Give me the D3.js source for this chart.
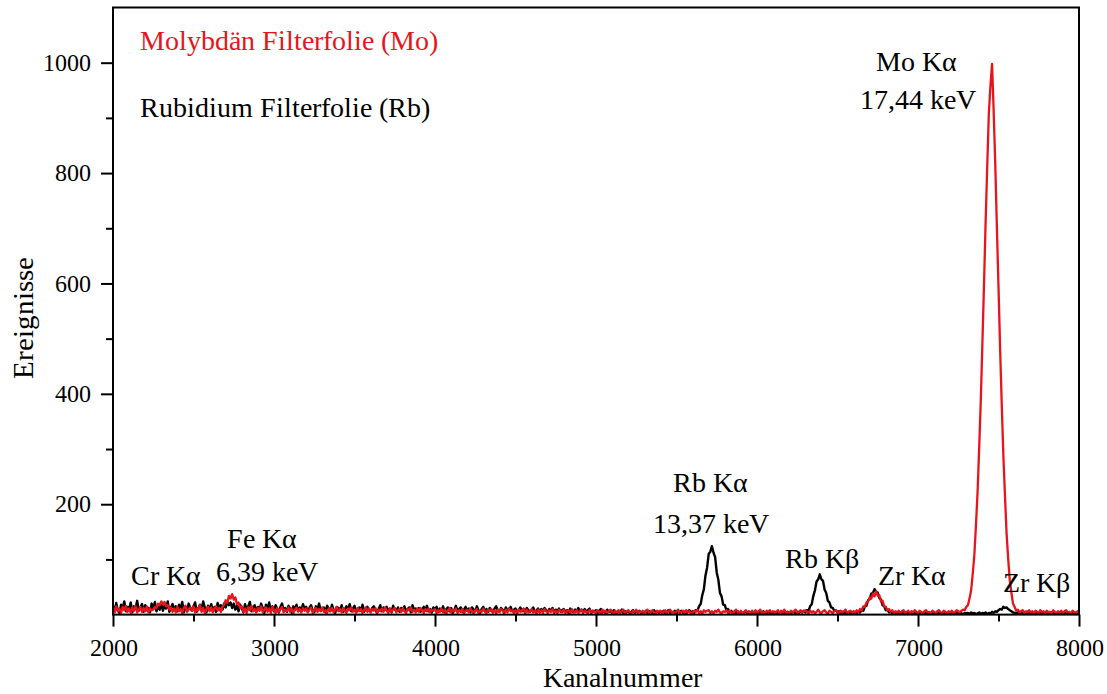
<!DOCTYPE html>
<html>
<head>
<meta charset="utf-8">
<script src="https://cdn.jsdelivr.net/npm/d3@7"></script>
<style>
  @font-face {
    font-family: "ChartSerif";
    src: local("Liberation Serif"), local("LiberationSerif"), local("LiberationSerif-Regular"),
         local("Times New Roman"), local("TimesNewRomanPSMT"),
         local("DejaVu Serif"), local("DejaVuSerif");
  }
  html, body { margin: 0; padding: 0; background: #fff; }
  svg { display: block; }
  svg text { font-family: "ChartSerif", "Liberation Serif", serif; }
</style>
</head>
<body>
<svg id="chart" width="1107" height="694"></svg>
<script>
// Spectra: counts per channel, sampled every 10 channels from channel 2000 to 8000
const channelStart = 2000;
const channelStep = 10;

// Molybdenum filter foil (red)
const molybdenumCounts = [
  12,4,15,6,10,3,14,8,16,5,
  11,3,13,7,15,4,9,14,5,12,
  6,15,4,11,8,9,14,12,20,17,
  24,19,23,15,17,9,13,5,11,4,
  14,6,10,3,12,16,5,9,13,7,
  15,4,11,8,17,5,12,3,10,14,
  6,13,4,11,15,7,12,5,14,18,
  26,21,34,29,37,27,31,19,22,12,
  15,5,11,3,13,8,16,6,10,4,
  12,7,15,4,9,13,5,11,3,14,
  8,3,12,5,10,14,4,9,6,13,
  5,11,3,9,13,6,10,4,12,7,
  11,4,9,13,3,8,12,5,10,6,
  13,5,8,3,11,7,12,4,9,14,
  6,10,4,12,7,3,11,8,13,5,
  9,4,12,6,10,3,8,13,5,11,
  4,10,7,12,3,9,6,11,5,13,
  7,3,11,5,9,12,4,8,10,5,
  12,6,3,10,8,13,5,9,4,11,
  5,12,8,3,10,6,11,4,9,7,
  10,3,8,5,11,4,9,2,7,12,
  4,9,6,11,3,8,5,10,2,7,
  9,4,11,6,2,8,10,3,7,5,
  11,5,3,9,6,10,4,8,2,9,
  5,10,7,3,9,4,11,6,8,3,
  8,2,10,5,7,11,3,9,4,6,
  10,4,7,2,9,5,8,3,10,6,
  3,8,5,10,4,7,2,9,6,4,
  9,3,6,8,2,10,5,4,8,3,
  6,9,3,7,5,2,9,4,7,5,
  3,8,5,2,9,4,7,3,6,9,
  5,2,7,4,8,3,6,9,2,5,
  8,4,2,7,5,9,3,6,4,7,
  2,6,9,3,5,8,4,2,7,5,
  7,3,5,8,2,6,9,4,5,3,
  6,9,2,5,7,3,8,4,6,2,
  4,7,5,9,3,6,2,8,5,7,
  8,3,6,2,7,5,9,4,3,6,
  5,8,3,7,4,2,6,9,5,3,
  7,2,5,8,4,6,3,7,2,8,
  4,6,9,3,5,2,7,5,8,4,
  6,3,5,8,2,7,4,9,3,5,
  2,7,4,6,9,3,5,8,4,6,
  8,5,2,7,4,6,3,5,9,4,
  3,6,8,4,2,7,5,3,6,8,
  5,2,7,4,6,9,3,5,7,4,
  6,3,8,5,10,8,15,14,22,24,
  31,29,38,33,42,34,35,24,25,15,
  14,8,10,5,8,3,6,4,7,3,
  6,8,3,5,7,2,6,4,8,5,
  3,7,5,2,6,8,4,5,3,7,
  5,2,6,8,4,3,7,5,2,6,
  4,7,3,5,8,6,4,7,9,8,
  14,17,29,44,74,108,162,222,302,388,
  492,598,712,812,908,958,998,912,815,702,
  594,482,382,290,217,148,102,62,40,20,
  14,7,9,4,6,8,3,6,5,8,
  4,6,2,7,5,3,8,4,6,3,
  7,4,5,2,8,5,3,6,4,7,
  3,6,8,4,5,2,7,5,3,6,
  4
];

// Rubidium filter foil (black)
const rubidiumCounts = [
  16,5,21,8,3,18,10,24,6,14,
  9,22,4,15,11,25,7,13,19,5,
  17,8,12,4,20,10,23,6,14,9,
  21,7,16,11,24,5,13,19,8,15,
  6,18,10,23,4,14,9,20,12,7,
  15,22,5,11,18,8,24,13,4,16,
  10,19,7,14,5,21,12,17,9,20,
  13,24,17,22,12,20,9,16,6,18,
  11,4,19,9,15,23,6,13,17,5,
  14,8,20,12,3,18,10,22,7,15,
  6,17,10,4,14,20,8,12,5,16,
  11,3,15,9,18,6,13,7,19,10,
  14,5,12,17,8,4,15,10,20,7,
  9,13,4,16,11,6,18,8,3,14,
  12,7,17,5,10,15,8,19,6,11,
  16,4,9,13,7,18,5,11,14,8,
  5,12,15,8,3,10,17,6,13,9,
  14,6,11,4,16,9,7,13,5,12,
  8,15,6,10,13,4,17,9,11,7,
  12,5,9,14,8,16,6,10,4,13,
  9,14,5,11,7,15,4,10,13,6,
  12,3,8,16,6,10,13,5,9,14,
  7,11,4,13,9,6,15,8,3,10,
  14,6,10,5,12,8,4,11,15,7,
  5,12,9,3,13,7,10,14,6,9,
  11,4,8,13,6,10,3,12,8,5,
  9,13,5,7,11,4,10,6,12,8,
  4,10,7,12,3,9,6,11,5,8,
  10,5,8,3,11,7,4,9,6,12,
  6,9,4,10,5,8,11,3,7,5,
  8,3,6,10,4,7,2,9,5,7,
  3,8,5,2,7,4,9,3,6,4,
  7,2,5,8,3,6,4,7,2,5,
  4,7,3,6,5,2,8,4,6,3,
  6,3,7,2,5,8,3,5,4,7,
  2,6,4,7,3,5,2,6,8,4,
  6,3,8,7,15,19,35,46,71,85,
  110,114,124,112,104,76,63,39,33,18,
  17,8,10,4,7,3,5,2,6,3,
  5,2,4,6,2,5,3,4,2,5,
  3,5,2,4,6,2,3,5,2,4,
  2,5,3,2,4,6,2,4,3,5,
  3,2,5,4,2,5,3,6,4,7,
  4,8,7,15,19,34,44,60,64,73,
  64,61,45,39,25,22,13,12,7,8,
  4,6,3,5,2,4,3,5,2,4,
  3,5,2,6,4,8,7,15,16,26,
  28,38,39,46,41,40,30,27,17,15,
  8,9,4,5,2,4,3,2,4,2,
  3,1,4,2,3,1,3,2,4,1,
  2,4,1,3,2,4,1,3,2,3,
  1,3,2,4,1,2,3,1,3,2,
  4,1,3,2,3,1,4,2,1,3,
  2,3,1,4,2,3,1,2,4,1,
  3,2,4,1,3,2,5,3,6,5,
  8,10,9,14,12,13,10,8,6,4,
  3,2,4,1,3,2,4,2,1,3,
  2,4,1,3,2,1,3,2,4,1,
  3,1,2,4,2,3,1,3,2,4,
  1,3,2,1,3,2,4,1,3,2,
  2
];

// Axis ticks
const xMajorTicks = [2000, 3000, 4000, 5000, 6000, 7000, 8000];
const xMinorTicks = [2500, 3500, 4500, 5500, 6500, 7500];
const yMajorTicks = [200, 400, 600, 800, 1000];
const yMinorTicks = [100, 300, 500, 700, 900];

// Series names
const seriesNames = ["Molybdän Filterfolie (Mo)", "Rubidium Filterfolie (Rb)"];

// Peak labels, anchored in channel / count units
const peakLabelText = ["Cr Kα", "Fe Kα", "6,39 keV", "Rb Kα", "13,37 keV", "Rb Kβ", "Zr Kα", "Mo Kα", "17,44 keV", "Zr Kβ"];
const peakLabelChannel = [2329, 2925, 2956, 5714, 5714, 6404, 6963, 6988, 7000, 7733];
const peakLabelCount = [53.6, 120.7, 60.9, 222, 147.9, 84.4, 53.6, 985, 915.6, 41];

const RED = "#e8141c";

const svg = d3.select("#chart");
const margin = { top: 7.5, right: 28, bottom: 79.4, left: 113 };
const W = 1107, H = 694;
const plotW = W - margin.left - margin.right;
const plotH = H - margin.top - margin.bottom;

const x = d3.scaleLinear().domain([2000, 8000]).range([0, plotW]);
const y = d3.scaleLinear().domain([0, 1100]).range([plotH, 0]);

const g = svg.append("g").attr("transform", `translate(${margin.left},${margin.top})`);

svg.append("defs").append("clipPath").attr("id", "plotClip")
  .append("rect").attr("x", 0).attr("y", 0).attr("width", plotW).attr("height", plotH);

const toPoints = counts => counts.map((c, i) => [channelStart + i * channelStep, c]);

const line = d3.line()
  .x(d => x(d[0]))
  .y(d => y(d[1]));

const traces = g.append("g").attr("clip-path", "url(#plotClip)");

traces.append("path")
  .datum(toPoints(rubidiumCounts))
  .attr("fill", "none")
  .attr("stroke", "#000")
  .attr("stroke-width", 2.4)
  .attr("stroke-linejoin", "round")
  .attr("d", line);

traces.append("path")
  .datum(toPoints(molybdenumCounts))
  .attr("fill", "none")
  .attr("stroke", RED)
  .attr("stroke-width", 2.3)
  .attr("stroke-linejoin", "round")
  .attr("d", line);

// Axes
const xAxisMajor = d3.axisBottom(x).tickValues(xMajorTicks).tickSize(12).tickSizeOuter(0).tickPadding(12).tickFormat(d3.format("d"));
const xAxisMinor = d3.axisBottom(x).tickValues(xMinorTicks).tickSize(7).tickSizeOuter(0).tickFormat("");
const yAxisMajor = d3.axisLeft(y).tickValues(yMajorTicks).tickSize(12).tickSizeOuter(0).tickPadding(10).tickFormat(d3.format("d"));
const yAxisMinor = d3.axisLeft(y).tickValues(yMinorTicks).tickSize(7).tickSizeOuter(0).tickFormat("");

function styleAxis(sel) {
  sel.attr("font-family", null).attr("font-size", null);
  sel.select(".domain").remove();
  sel.selectAll(".tick line").attr("stroke", "#000").attr("stroke-width", 2);
  sel.selectAll(".tick text").attr("fill", "#000").style("font-size", "24px");
}

g.append("g").attr("transform", `translate(0,${plotH})`).call(xAxisMajor).call(styleAxis);
g.append("g").attr("transform", `translate(0,${plotH})`).call(xAxisMinor).call(styleAxis);
g.append("g").call(yAxisMajor).call(styleAxis);
g.append("g").call(yAxisMinor).call(styleAxis);

// Frame
g.append("rect")
  .attr("x", 0).attr("y", 0)
  .attr("width", plotW).attr("height", plotH)
  .attr("fill", "none")
  .attr("stroke", "#000")
  .attr("stroke-width", 2);

// Axis titles
svg.append("text")
  .attr("x", 622).attr("y", 687)
  .attr("text-anchor", "middle")
  .attr("fill", "#000")
  .style("font-size", "28px")
  .text("Kanalnummer");

svg.append("text")
  .attr("transform", "translate(33,318) rotate(-90)")
  .attr("text-anchor", "middle")
  .attr("fill", "#000")
  .style("font-size", "29px")
  .text("Ereignisse");

// Series names
const legend = g.append("g").attr("transform", "translate(27,0)");
legend.append("text").attr("x", 0).attr("y", 42.5).attr("fill", RED).style("font-size", "28px").text(seriesNames[0]);
legend.append("text").attr("x", 0).attr("y", 109.2).attr("fill", "#000").style("font-size", "28px").text(seriesNames[1]);

// Peak labels
g.append("g")
  .selectAll("text")
  .data(peakLabelText.map((t, i) => ({ t, ch: peakLabelChannel[i], c: peakLabelCount[i] })))
  .join("text")
  .attr("x", d => x(d.ch))
  .attr("y", d => y(d.c))
  .attr("text-anchor", "middle")
  .attr("fill", "#000")
  .style("font-size", "28px")
  .text(d => d.t);
</script>
</body>
</html>
